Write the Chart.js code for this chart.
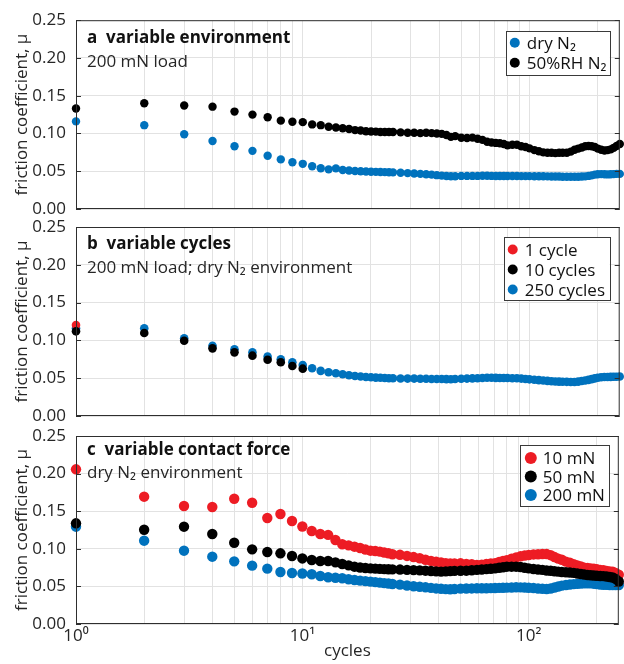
<!DOCTYPE html>
<html>
<head>
<meta charset="utf-8">
<script src="https://cdn.jsdelivr.net/npm/chart.js@4.4.1/dist/chart.umd.min.js"></script>
<style>
html, body { margin: 0; padding: 0; background: #fff; }
#wrap { position: relative; width: 624px; height: 664px; }
#wrap canvas { position: absolute; left: 0; top: 0; }
</style>
</head>
<body>
<div id="wrap">
  <canvas id="chartA" width="624" height="664"></canvas>
  <canvas id="chartB" width="624" height="664"></canvas>
  <canvas id="chartC" width="624" height="664"></canvas>
</div>
<script>
// sampled cycle numbers (x values)
const cycles = [1,2,3,4,5,6,7,8,9,10, 11,12,13,14,15,16,17,18,19,20,
  21,22,23,24,25,27,29,31,33,35, 37,39,41,43,45,47,50,53,56,59,
  62,65,68,71,74,77,80,84,88,92, 96,100,105,110,115,120,125,130,135,140,
  146,152,158,164,170,176,182,188,194,200, 207,214,221,228,235,242,250];

const xTicks = [1,2,3,4,5,6,7,8,9,10,20,30,40,50,60,70,80,90,100,200];
const xTickLabels = {1: '10\u2070', 10: '10\u00b9', 100: '10\u00b2'};
const yTicks = [0, 0.05, 0.10, 0.15, 0.20, 0.25];

// a: variable environment
const envDry = [0.116,0.111,0.099,0.090,0.083,0.077,0.0705,0.0657,0.062,0.0598,
  0.0567,0.054,0.0525,0.0538,0.0516,0.051,0.0503,0.050,0.0497,0.0494,
  0.0492,0.049,0.0488,0.0487,0.0485,0.048,0.0475,0.047,0.0465,0.046,
  0.0455,0.0448,0.0442,0.0437,0.0433,0.0434,0.0438,0.0438,0.0438,0.0438,
  0.044,0.044,0.0438,0.0437,0.0437,0.0436,0.0436,0.0436,0.0436,0.0435,
  0.0435,0.0435,0.0434,0.0434,0.0433,0.0432,0.043,0.043,0.043,0.0428,
  0.0428,0.0428,0.0428,0.0428,0.043,0.0432,0.0438,0.0445,0.0455,0.046,
  0.0462,0.046,0.0458,0.046,0.0462,0.0465,0.0465];
const envHumid = [0.133,0.140,0.137,0.1355,0.129,0.125,0.1215,0.117,0.1155,0.115,
  0.112,0.111,0.109,0.108,0.107,0.106,0.1045,0.104,0.103,0.1027,
  0.1025,0.102,0.102,0.102,0.1019,0.1015,0.101,0.101,0.1005,0.101,
  0.1005,0.100,0.0995,0.098,0.0955,0.0965,0.0943,0.094,0.0945,0.093,
  0.0915,0.089,0.088,0.0875,0.087,0.086,0.0843,0.085,0.085,0.083,
  0.082,0.0803,0.078,0.0765,0.075,0.0745,0.0745,0.074,0.0745,0.0745,
  0.0745,0.076,0.0785,0.080,0.0815,0.083,0.0835,0.083,0.082,0.080,
  0.0785,0.0775,0.078,0.079,0.081,0.0835,0.086];

// b: variable cycles
const cyc1X = [1];
const cyc1 = [0.1204];
const cyc10X = [1,2,3,4,5,6,7,8,9,10];
const cyc10 = [0.112,0.1098,0.0996,0.0895,0.0842,0.0798,0.0745,0.071,0.0661,0.0626];
const cyc250 = [0.116,0.116,0.1027,0.093,0.0882,0.0842,0.0785,0.075,0.071,0.0675,
  0.0632,0.0597,0.0578,0.0565,0.0552,0.054,0.0529,0.0522,0.0516,0.0512,
  0.0508,0.0505,0.0502,0.050,0.0499,0.0497,0.0495,0.0495,0.0493,0.0492,
  0.049,0.049,0.0489,0.0488,0.0487,0.0489,0.0492,0.0495,0.0498,0.050,
  0.0503,0.0505,0.0505,0.0504,0.0503,0.0502,0.0502,0.050,0.0499,0.0495,
  0.049,0.0485,0.048,0.0475,0.047,0.0465,0.046,0.0457,0.0455,0.0454,
  0.0452,0.045,0.045,0.0455,0.0462,0.047,0.0478,0.0488,0.0498,0.0505,
  0.0512,0.0515,0.0516,0.0518,0.052,0.052,0.0522];

// c: variable contact force
const force10 = [0.2057,0.1693,0.1569,0.1556,0.1666,0.1613,0.141,0.1463,0.137,0.1297,
  0.1237,0.1197,0.1185,0.1117,0.106,0.1045,0.1028,0.101,0.099,0.0975,
  0.097,0.0962,0.095,0.094,0.0927,0.092,0.0905,0.089,0.0875,0.0855,
  0.084,0.0828,0.082,0.081,0.0805,0.0805,0.0807,0.080,0.0795,0.0785,
  0.079,0.080,0.0805,0.081,0.0825,0.084,0.085,0.087,0.0885,0.090,
  0.091,0.0918,0.0925,0.0927,0.093,0.093,0.0915,0.089,0.087,0.0855,
  0.083,0.0815,0.0795,0.078,0.0765,0.075,0.0745,0.074,0.0735,0.073,
  0.072,0.0715,0.0705,0.070,0.0695,0.068,0.0655];
const force50 = [0.1339,0.1254,0.1294,0.1197,0.1081,0.0993,0.0957,0.094,0.0904,0.0872,
  0.0851,0.0838,0.0838,0.082,0.0798,0.078,0.0762,0.0752,0.0745,0.074,
  0.0737,0.0733,0.073,0.0728,0.0727,0.0724,0.072,0.0717,0.0713,0.0709,
  0.0704,0.070,0.0697,0.070,0.0703,0.0706,0.0708,0.0709,0.0715,0.072,
  0.0725,0.073,0.0735,0.074,0.0748,0.0755,0.0762,0.0762,0.0762,0.0758,
  0.0748,0.074,0.0732,0.0725,0.072,0.0712,0.0708,0.0702,0.0697,0.0692,
  0.0688,0.0684,0.068,0.0672,0.0665,0.0658,0.0652,0.0648,0.0645,0.0642,
  0.0638,0.0636,0.0632,0.0625,0.0618,0.060,0.0565];
const force200 = [0.1294,0.1108,0.0975,0.0895,0.0833,0.0776,0.0736,0.0691,0.0678,0.0672,
  0.0662,0.0638,0.0621,0.0615,0.0608,0.0595,0.0585,0.0577,0.057,0.0563,
  0.0557,0.055,0.0544,0.0538,0.0532,0.0524,0.0512,0.0502,0.0495,0.0488,
  0.048,0.0473,0.0468,0.0464,0.0462,0.0465,0.047,0.0472,0.0473,0.0475,
  0.0475,0.0475,0.0477,0.0479,0.048,0.0482,0.0484,0.0486,0.0488,0.0487,
  0.0485,0.0482,0.0478,0.0472,0.0468,0.0466,0.0472,0.0485,0.0498,0.051,
  0.0518,0.0525,0.053,0.0534,0.0537,0.054,0.0541,0.054,0.0536,0.053,
  0.0525,0.0522,0.052,0.0519,0.0519,0.0519,0.0519];

const BLUE = 'rgb(0,114,189)';
const RED = 'rgb(237,28,36)';
const BLACK = '#000000';
const FONT = '"Open Sans", sans-serif';

Chart.defaults.font.family = FONT;
Chart.defaults.font.size = 17;
Chart.defaults.color = '#262626';

function pts(xs, ys) {
  return xs.map((x, i) => ({x: x, y: ys[i]}));
}

function series(label, xs, ys, color, r, order) {
  return {
    label: label,
    data: pts(xs, ys),
    backgroundColor: color,
    borderColor: color,
    pointRadius: r,
    pointHoverRadius: r,
    pointBorderWidth: 0,
    showLine: false,
    clip: false,
    order: order
  };
}

// frame, inward ticks, panel text and legend box
const panelDecor = {
  id: 'panelDecor',
  afterDraw(chart, args, o) {
    const ctx = chart.ctx, a = chart.chartArea, ys = chart.scales.y;
    ctx.save();
    ctx.strokeStyle = '#2e2e2e';
    ctx.lineWidth = 1;
    ctx.beginPath();
    yTicks.forEach(v => {
      const y = Math.round(ys.getPixelForValue(v)) + 0.5;
      ctx.moveTo(a.left, y); ctx.lineTo(a.left + 5, y);
      ctx.moveTo(a.right - 5, y); ctx.lineTo(a.right, y);
    });
    ctx.stroke();
    ctx.strokeRect(a.left + 0.5, a.top + 0.5, a.right - a.left - 1, a.bottom - a.top - 1);

    ctx.fillStyle = '#111';
    ctx.textBaseline = 'alphabetic';
    ctx.textAlign = 'left';
    ctx.font = 'bold 17px ' + FONT;
    ctx.fillText(o.title, a.left + 11, a.top + o.titleDY);
    ctx.font = '17px ' + FONT;
    ctx.fillStyle = '#262626';
    ctx.fillText(o.sub, a.left + 11, a.top + o.subDY);

    const L = o.legend;
    const bx = a.right - 10 - L.w, by = a.top + L.dy;
    ctx.fillStyle = '#fff';
    ctx.fillRect(bx, by, L.w, L.h);
    ctx.strokeStyle = '#3a3a3a';
    ctx.strokeRect(Math.round(bx) + 0.5, Math.round(by) + 0.5, L.w, L.h);
    chart.data.datasets.forEach((ds, i) => {
      const cy = by + L.row0 + i * L.rowH;
      ctx.fillStyle = ds.backgroundColor;
      ctx.beginPath();
      ctx.arc(bx + L.mx, cy, L.r, 0, Math.PI * 2);
      ctx.fill();
      ctx.fillStyle = '#111';
      ctx.fillText(ds.label, bx + L.tx, cy + 6);
    });
    ctx.restore();
  }
};

function makeOptions(padding, showX, decor) {
  return {
    responsive: false,
    animation: false,
    events: [],
    layout: { padding: padding },
    plugins: {
      legend: { display: false },
      tooltip: { enabled: false },
      panelDecor: decor
    },
    scales: {
      x: {
        type: 'logarithmic',
        min: 1,
        max: 250,
        afterBuildTicks: s => { s.ticks = xTicks.map(v => ({value: v})); },
        afterFit: s => { s.height = showX ? 40 : 0; },
        grid: { color: '#e2e2e2', lineWidth: 1, drawTicks: false },
        border: { display: false },
        ticks: {
          display: showX,
          autoSkip: false,
          maxRotation: 0,
          padding: 2,
          color: '#262626',
          callback: v => xTickLabels[v] || ''
        },
        title: {
          display: showX,
          text: 'cycles',
          padding: { top: 0, bottom: 3 },
          color: '#262626'
        }
      },
      y: {
        min: 0,
        max: 0.25,
        afterBuildTicks: s => { s.ticks = yTicks.map(v => ({value: v})); },
        afterFit: s => { s.width = 76; },
        grid: { color: '#e2e2e2', lineWidth: 1, drawTicks: false },
        border: { display: false },
        ticks: {
          padding: 10,
          color: '#262626',
          callback: v => v.toFixed(2)
        },
        title: {
          display: true,
          text: 'friction coefficient, \u03bc',
          padding: { top: 12, bottom: 0 },
          color: '#262626'
        }
      }
    },
    plugins_: null
  };
}

new Chart(document.getElementById('chartA'), {
  type: 'scatter',
  data: {
    datasets: [
      series('dry N\u2082', cycles, envDry, BLUE, 4.2, 1),
      series('50%RH N\u2082', cycles, envHumid, BLACK, 4.2, 0)
    ]
  },
  options: makeOptions({top: 19, bottom: 455, left: 0, right: 1}, false, {
    title: 'a  variable environment', titleDY: 23, sub: '200 mN load', subDY: 47,
    legend: { w: 104, h: 44, dy: 11, row0: 11.5, rowH: 20, mx: 9, tx: 21, r: 5 }
  }),
  plugins: [panelDecor]
});

new Chart(document.getElementById('chartB'), {
  type: 'scatter',
  data: {
    datasets: [
      series('1 cycle', cyc1X, cyc1, RED, 4.3, 1),
      series('10 cycles', cyc10X, cyc10, BLACK, 4.3, 0),
      series('250 cycles', cycles, cyc250, BLUE, 4.3, 2)
    ]
  },
  options: makeOptions({top: 227, bottom: 248, left: 0, right: 1}, false, {
    title: 'b  variable cycles', titleDY: 22, sub: '200 mN load; dry N\u2082 environment', subDY: 46,
    legend: { w: 106, h: 63, dy: 10, row0: 12.5, rowH: 20, mx: 9, tx: 21, r: 5 }
  }),
  plugins: [panelDecor]
});

new Chart(document.getElementById('chartC'), {
  type: 'scatter',
  data: {
    datasets: [
      series('10 mN', cycles, force10, RED, 5.2, 2),
      series('50 mN', cycles, force50, BLACK, 5.2, 0),
      series('200 mN', cycles, force200, BLUE, 5.2, 1)
    ]
  },
  options: makeOptions({top: 436, bottom: 0, left: 0, right: 1}, true, {
    title: 'c  variable contact force', titleDY: 19, sub: 'dry N\u2082 environment', subDY: 42,
    legend: { w: 89, h: 61, dy: 9, row0: 13, rowH: 18.5, mx: 11, tx: 23, r: 6 }
  }),
  plugins: [panelDecor]
});
</script>
</body>
</html>
